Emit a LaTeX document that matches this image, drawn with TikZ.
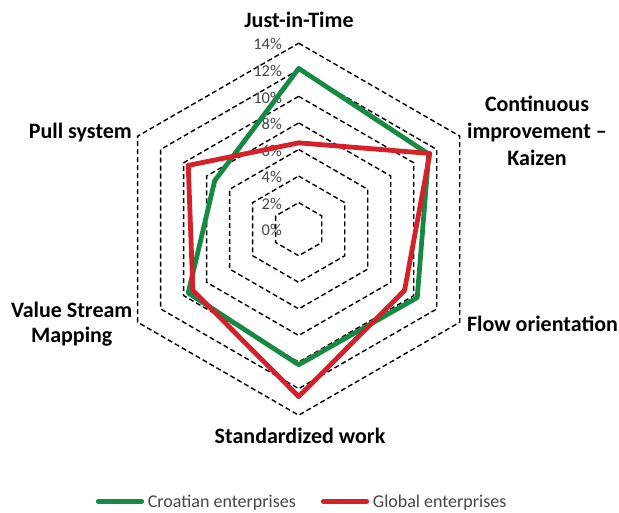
\documentclass[tikz,border=0pt]{standalone}
\usepackage{fontspec}
\setmainfont{Carlito}
\definecolor{sgreen}{RGB}{22,138,66}
\definecolor{sred}{RGB}{214,32,42}
\definecolor{softtext}{RGB}{70,70,70}
\begin{document}
\begin{tikzpicture}[x=1pt,y=1pt,
  ring/.style={black, line width=1.4pt, dash pattern=on 5pt off 3pt, line join=miter},
  series/.style={line width=4.8pt, line join=round},
  legline/.style={line width=4.8pt, line cap=round},
  cat/.style={font=\fontsize{22}{26}\selectfont\bfseries, text=black, inner sep=0pt, anchor=base},
  tick/.style={font=\fontsize{16.5}{20}\selectfont, text=softtext, inner sep=0pt, anchor=base east},
  legtext/.style={font=\fontsize{18}{21}\selectfont, text=softtext, inner sep=0pt, anchor=base west}]

\useasboundingbox (0,0) rectangle (619,512);

% chart centre and radial scale (pt per percent)
\coordinate (O) at (298.7,282.8);
\def\unit{13.2857}

% hexagonal grid rings, 2% to 14%
\foreach \k in {2,4,...,14} {
  \path (O) ++(90:{\k*\unit}) coordinate (r\k-a)
        (O) ++(30:{\k*\unit}) coordinate (r\k-b)
        (O) ++(-30:{\k*\unit}) coordinate (r\k-c)
        (O) ++(-90:{\k*\unit}) coordinate (r\k-d)
        (O) ++(210:{\k*\unit}) coordinate (r\k-e)
        (O) ++(150:{\k*\unit}) coordinate (r\k-f);
  \draw[ring] (r\k-a) -- (r\k-b) -- (r\k-c) -- (r\k-d) -- (r\k-e) -- (r\k-f) -- cycle;
}

% percentage scale
\foreach \k/\j in {0/0,2/1,4/2,6/3,8/4,10/5,12/6,14/7} {
  \node[tick] (tick\k) at (282,{276.1+\j*26.571}) {\k\%};
}

% data points: axis name / angle / Croatian / Global
\foreach \name/\ang/\g/\r in {jit/90/12.1/6.5, kai/30/11.3/11.4, flow/-30/10.3/9.2,
                              std/-90/10.2/12.6, vsm/210/9.6/9.2, pull/150/7.3/9.6} {
  \path (O) ++(\ang:{\g*\unit}) coordinate (g-\name);
  \path (O) ++(\ang:{\r*\unit}) coordinate (e-\name);
}

\draw[series, sgreen] (g-jit) -- (g-kai) -- (g-flow) -- (g-std) -- (g-vsm) -- (g-pull) -- cycle;
\draw[series, sred] (e-jit) -- (e-kai) -- (e-flow) -- (e-std) -- (e-vsm) -- (e-pull) -- cycle;

% category labels
\node[cat] (lab-jit) at (299,484) {Just-in-Time};
\node[cat] (lab-kai1) at (537,400) {Continuous};
\node[cat] (lab-kai2) at (537,373) {improvement –};
\node[cat] (lab-kai3) at (537,346) {Kaizen};
\node[cat] (lab-flow) at (542.5,180.5) {Flow orientation};
\node[cat] (lab-std) at (300,68) {Standardized work};
\node[cat] (lab-vsm1) at (71.7,194) {Value Stream};
\node[cat] (lab-vsm2) at (71.7,169) {Mapping};
\node[cat, anchor=base east] (lab-pull) at (132,373.5) {Pull system};

% legend
\coordinate (lg-a) at (98.3,10.5);
\coordinate (lg-b) at (141.7,10.5);
\coordinate (lr-a) at (323.3,10.5);
\coordinate (lr-b) at (366.7,10.5);
\draw[legline, sgreen] (lg-a) -- (lg-b);
\draw[legline, sred] (lr-a) -- (lr-b);
\node[legtext] (leg-g) at (147.7,5) {Croatian enterprises};
\node[legtext] (leg-r) at (372.7,5) {Global enterprises};
\end{tikzpicture}
\end{document}
